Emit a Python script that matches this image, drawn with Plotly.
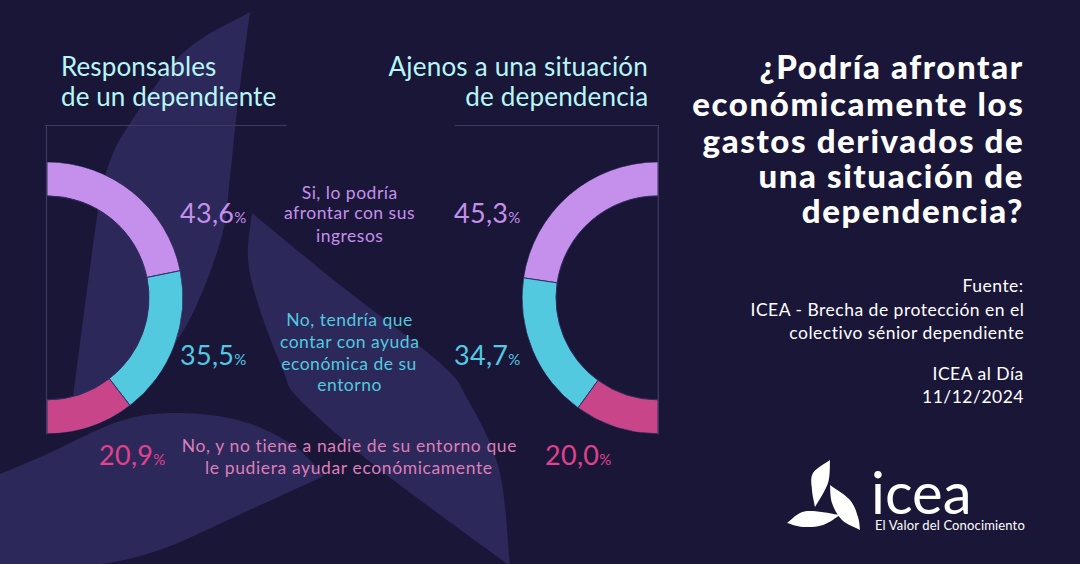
import json
import plotly.graph_objects as go

W, H = 1080, 564
BG = "#1a1638"
BLOB = "#2c285a"
FRAME = "#3f3b60"
COLORS = ["#c58fec", "#52c9de", "#c9458a"]
PCT_COLORS = ["#c58fec", "#52c9e0", "#e0428e"]
categories = ["Si, lo podría afrontar con sus ingresos",
              "No, tendría que contar con ayuda económica de su entorno",
              "No, y no tiene a nadie de su entorno que le pudiera ayudar económicamente"]
responsables = [43.6, 35.5, 20.9]
ajenos = [45.3, 34.7, 20.0]
FONT = "Lato"


def px(x):
    return x / W


def py(y):
    return 1 - y / H


def smooth(pts):
    """Catmull-Rom through pts, returned as SVG cubic segments in paper coords."""
    out = ""
    n = len(pts)
    for i in range(n - 1):
        p0 = pts[max(i - 1, 0)]
        p1 = pts[i]
        p2 = pts[i + 1]
        p3 = pts[min(i + 2, n - 1)]
        c1 = (p1[0] + (p2[0] - p0[0]) / 6, p1[1] + (p2[1] - p0[1]) / 6)
        c2 = (p2[0] - (p3[0] - p1[0]) / 6, p2[1] - (p3[1] - p1[1]) / 6)
        out += f" C {px(c1[0]):.5f},{py(c1[1]):.5f} {px(c2[0]):.5f},{py(c2[1]):.5f} {px(p2[0]):.5f},{py(p2[1]):.5f}"
    return out


def blob(*edges):
    start = edges[0][0]
    d = f"M {px(start[0]):.5f},{py(start[1]):.5f}"
    for e in edges:
        d += smooth(e)
    return dict(type="path", path=d + " Z", xref="paper", yref="paper",
                fillcolor=BLOB, line=dict(width=0), layer="below")


def hline(x0, x1, y):
    return dict(type="line", xref="paper", yref="paper", x0=px(x0), x1=px(x1), y0=py(y), y1=py(y),
                line=dict(color=FRAME, width=1.2), layer="below")


def vline(x, y0, y1):
    return dict(type="line", xref="paper", yref="paper", x0=px(x), x1=px(x), y0=py(y0), y1=py(y1),
                line=dict(color=FRAME, width=1.2), layer="below")


def petal(*edges):
    s = blob(*edges)
    s.update(fillcolor="#ffffff", layer="above")
    return s


shapes = [
    blob([(250, 12), (183, 53), (127, 128), (107, 170), (97, 217), (73, 397)],
         [(73, 397), (130, 385), (182, 333), (220, 243), (230, 177), (237, 110), (250, 12)]),
    blob([(252, 213), (340, 285), (440, 363), (468, 400), (499, 469), (510, 566)],
         [(510, 566), (379, 469), (300, 400), (283, 370), (260, 310), (248, 260), (252, 213)]),
    blob([(0, 474), (45, 455), (120, 421), (179, 413), (241, 421), (293, 445), (324, 476)],
         [(324, 476), (241, 514), (165, 548), (103, 564), (45, 566), (0, 565), (0, 474)]),
    hline(45, 287, 125.5), vline(46.5, 125, 434.5),
    hline(455, 658, 125.5), vline(658.3, 125, 434.5),
    petal([(830, 460), (813, 473), (812, 490), (815, 507)], [(815, 507), (828, 483), (830, 460)]),
    petal([(830, 485), (850, 500), (858, 517), (860, 530)], [(860, 530), (842, 520), (832, 503), (830, 485)]),
    petal([(787, 523), (800, 513), (813, 511), (840, 515)], [(840, 515), (823, 525), (803, 527), (787, 523)]),
]

annotations = []
spacing = []


def text(s, x, y, size, color, anchor="center", weight=400, track=0.0):
    annotations.append(dict(text=s, x=px(x), y=py(y), xref="paper", yref="paper", showarrow=False,
                            xanchor=anchor, yanchor="middle", align=anchor, borderpad=0, borderwidth=0,
                            font=dict(family=FONT, size=size, color=color, weight=weight)))
    spacing.append(track)


def pct(v):
    return f"{v:.1f}".replace(".", ",") + "<span style='font-size:15px'>%</span>"


HEAD = "#b8f6f6"
text("Responsables", 61, 65.5, 26, HEAD, "left", track=0.1)
text("de un dependiente", 61, 95.5, 26, HEAD, "left", track=0.1)
text("Ajenos a una situación", 648, 65.5, 26, HEAD, "right", track=0.2)
text("de dependencia", 648, 95.5, 26, HEAD, "right", track=0.2)

for line, y in zip(["¿Podría afrontar", "económicamente los", "gastos derivados de", "una situación de", "dependencia?"],
                   [66, 103, 140, 175, 210]):
    text(line, 1024, y, 33, "#ffffff", "right", 900, track=1.6)

for line, y in zip(["Fuente:", "ICEA - Brecha de protección en el", "colectivo sénior dependiente",
                    "ICEA al Día", "11/12/2024"], [285, 309, 332, 373, 396]):
    text(line, 1024, y, 17.5, "#ffffff", "right", track=0.5)

for line, y in zip(["Si, lo podría", "afrontar con sus", "ingresos"], [192, 213, 235]):
    text(line, 349, y, 17.5, COLORS[0], track=0.5)
for line, y in zip(["No, tendría que", "contar con ayuda", "económica de su", "entorno"], [319, 341, 363, 384]):
    text(line, 349, y, 17.5, COLORS[1], track=0.5)
for line, y in zip(["No, y no tiene a nadie de su entorno que", "le pudiera ayudar económicamente"], [445, 467]):
    text(line, 349, y, 17.5, "#dc7fb8", track=0.62)

for v, c, x, y in zip(responsables, PCT_COLORS, [180, 180, 99], [212, 354, 454]):
    text(pct(v), x, y, 27, c, "left", track=0.3)
for v, c, x, y in zip(ajenos, PCT_COLORS, [454, 454, 545], [212, 354, 454]):
    text(pct(v), x, y, 27, c, "left", track=0.3)

text("icea", 871, 491, 58, "#ffffff", "left", 400)
text("El Valor del Conocimiento", 875, 525, 13, "#ffffff", "left", track=0.15)


def half_donut(values, subplot):
    thetas, widths, acc = [], [], 0
    for v in values:
        w = v * 1.8
        thetas.append(acc + w / 2)
        widths.append(w)
        acc += w
    return go.Barpolar(r=[34] * len(values), base=[102] * len(values), theta=thetas, width=widths,
                       marker=dict(color=COLORS, line=dict(color="#332f63", width=1)),
                       subplot=subplot, showlegend=False, hovertext=categories, hoverinfo="text+name")


def polar(dom_x, sector, direction):
    return dict(domain=dict(x=[px(dom_x[0]), px(dom_x[1])], y=[py(434), py(161.7)]),
                sector=sector, bgcolor="rgba(0,0,0,0)", hole=0,
                radialaxis=dict(visible=False, range=[0, 136]),
                angularaxis=dict(visible=False, rotation=90, direction=direction, thetaunit="degrees"))


fig = go.Figure([half_donut(responsables, "polar"), half_donut(ajenos, "polar2")])
fig.update_layout(width=W, height=H, margin=dict(l=0, r=0, t=0, b=0), autosize=False,
                  paper_bgcolor=BG, plot_bgcolor=BG, showlegend=False,
                  polar=polar((47, 183), [-90, 90], "clockwise"),
                  polar2=polar((522, 658), [90, 270], "counterclockwise"),
                  shapes=shapes, annotations=annotations)
post = ("document.body.style.margin='0';document.body.style.background='%s';"
        "var sp=%s;document.querySelectorAll('.annotation-text').forEach(function(t,i){"
        "t.style.letterSpacing=sp[i]+'px';});" % (BG, json.dumps(spacing)))
fig.write_html("out.html", config=dict(displayModeBar=False), post_script=post)
